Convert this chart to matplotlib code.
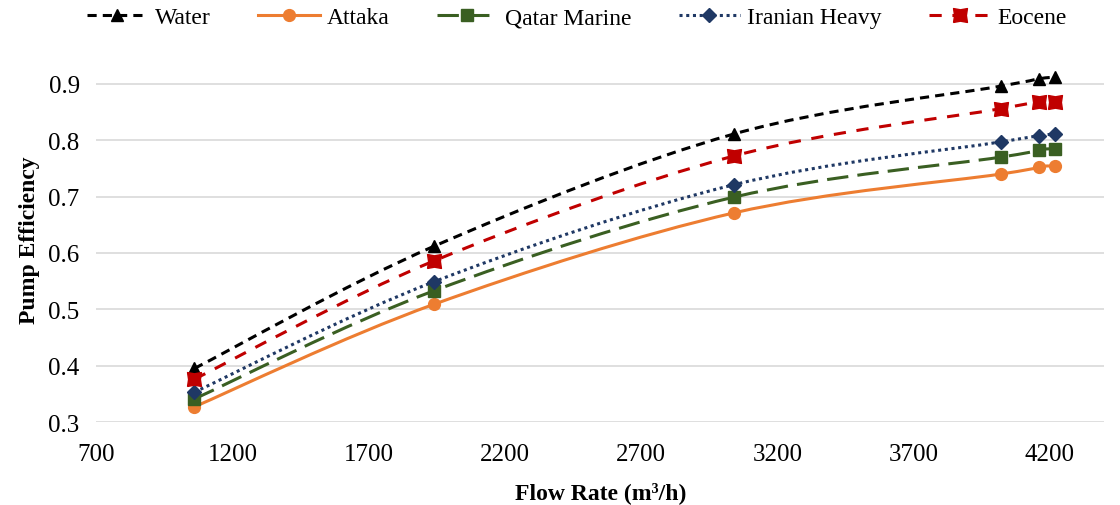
import numpy as np
import matplotlib
matplotlib.use("Agg")
import matplotlib.pyplot as plt
from matplotlib.path import Path
from matplotlib.patches import PathPatch
from matplotlib.lines import Line2D

plt.rcParams['font.family'] = ['Liberation Serif', 'DejaVu Serif']

# data
flow = [1060, 1940, 3040, 4020, 4160, 4220]
water = [0.395, 0.612, 0.811, 0.896, 0.909, 0.912]
attaka = [0.327, 0.509, 0.671, 0.740, 0.753, 0.754]
qatar = [0.341, 0.533, 0.699, 0.770, 0.783, 0.785]
iranian = [0.353, 0.549, 0.721, 0.797, 0.808, 0.811]
eocene = [0.376, 0.586, 0.772, 0.856, 0.868, 0.868]

names = ['Water', 'Attaka', 'Qatar Marine', 'Iranian Heavy', 'Eocene']
xticks = [700, 1200, 1700, 2200, 2700, 3200, 3700, 4200]
yticks = [0.3, 0.4, 0.5, 0.6, 0.7, 0.8, 0.9]

# notched square marker used for Eocene
eoc_marker = [(-1, -1), (0, -0.82), (1, -1), (0.85, 0), (1, 1), (0, 0.82), (-1, 1), (-0.85, 0), (-1, -1)]

styles = [
    dict(color='black', ls=(0, (3, 2)), marker='^', ms=9),
    dict(color='#ED7D31', ls='-', marker='o', ms=8.5),
    dict(color='#3A5F22', ls=(0, (7, 3)), marker='s', ms=9),
    dict(color='#1F3864', ls=(0, (1, 1.2)), marker='D', ms=7.5),
    dict(color='#C00000', ls=(0, (4, 3.5)), marker=eoc_marker, ms=10),
]


def smooth_path(x, y):
    # Excel style smoothed line: Catmull-Rom as cubic Bezier segments
    pts = np.column_stack([x, y]).astype(float)
    n = len(pts)
    verts = [pts[0]]
    codes = [Path.MOVETO]
    for i in range(n - 1):
        p0 = pts[i - 1] if i > 0 else pts[i]
        p1 = pts[i]
        p2 = pts[i + 1]
        p3 = pts[i + 2] if i + 2 < n else pts[i + 1]
        c1 = p1 + (p2 - p0) / 6
        c2 = p2 - (p3 - p1) / 6
        verts += [c1, c2, p2]
        codes += [Path.CURVE4] * 3
    return Path(verts, codes)


fig = plt.figure(figsize=(11.2, 5.06), dpi=100)
ax = fig.add_axes([0.086, 0.164, 0.900, 0.724])

handles = []
for name, ys, st in zip(names, [water, attaka, qatar, iranian, eocene], styles):
    patch = PathPatch(smooth_path(flow, ys), fill=False, edgecolor=st['color'],
                      lw=2.2, linestyle=st['ls'], zorder=2)
    ax.add_patch(patch)
    ax.plot(flow, ys, ls='none', marker=st['marker'], ms=st['ms'],
            color=st['color'], mec=st['color'], zorder=3)
    handles.append(Line2D([], [], color=st['color'], lw=2.2, ls=st['ls'],
                          marker=st['marker'], ms=st['ms'], label=name))

ax.set_xlim(700, 4400)
ax.set_ylim(0.3, 0.95)
ax.set_xticks(xticks)
ax.set_yticks(yticks)
ax.set_yticklabels([f'{v:.1f}' for v in yticks])
ax.tick_params(axis='x', length=0, labelsize=18, pad=15)
ax.tick_params(axis='y', length=0, labelsize=18, pad=12)
ax.grid(axis='y', color='#D9D9D9', lw=1.2)
ax.set_axisbelow(True)
for s in ax.spines.values():
    s.set_visible(False)

ax.set_xlabel('Flow Rate (m\u00b3/h)', fontsize=17, fontweight='bold', labelpad=12)
ax.set_ylabel('Pump Efficiency', fontsize=17, fontweight='bold', labelpad=6)

fig.legend(handles=handles, loc='center', bbox_to_anchor=(0.515, 0.963), ncol=5,
           frameon=False, fontsize=17, handlelength=2.6, columnspacing=2.0,
           handletextpad=0.3)

fig.savefig('out.png', dpi=100)
